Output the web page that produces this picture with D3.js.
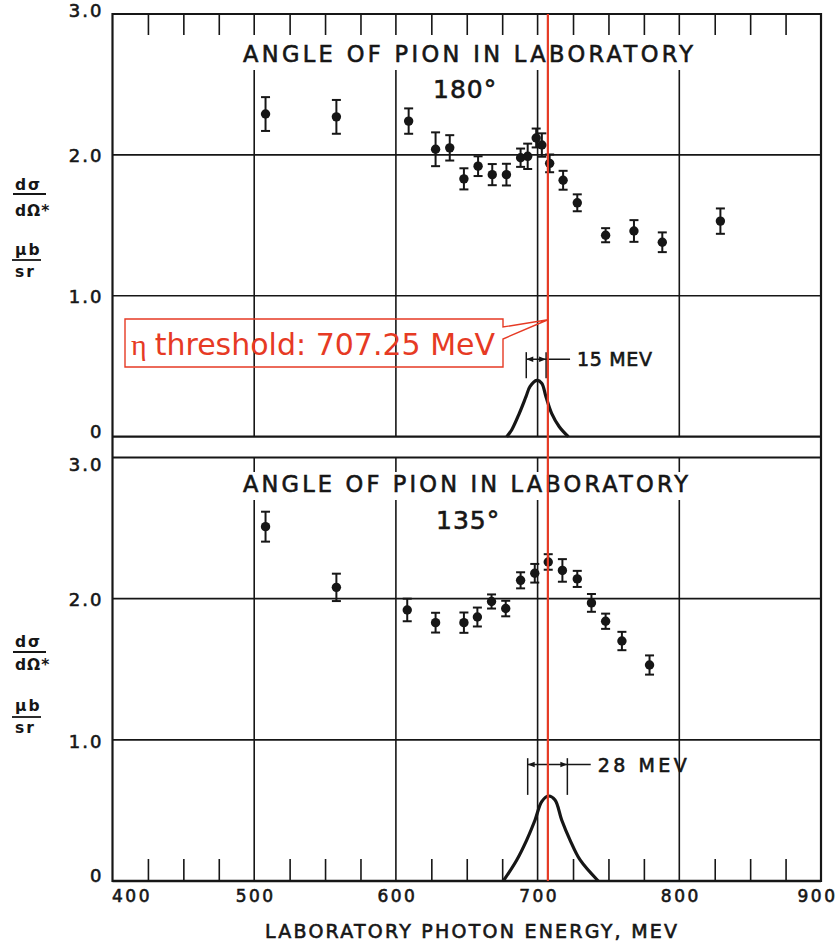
<!DOCTYPE html>
<html><head><meta charset="utf-8">
<script src="https://cdn.jsdelivr.net/npm/d3@7"></script>
<style>body{margin:0;background:#fff}svg{display:block}text{font-family:"DejaVu Sans",sans-serif}</style>
</head><body><svg id="c" width="840" height="943"></svg>
<script>
// ---------------- data ----------------
const energy180 = [508, 558, 609, 628, 638, 648, 658, 668, 678, 688, 693, 699, 703, 708.5, 718, 728, 748, 768, 788, 829];
const value180  = [2.29, 2.27, 2.24, 2.04, 2.05, 1.83, 1.92, 1.86, 1.86, 1.98, 1.99, 2.12, 2.07, 1.94, 1.82, 1.66, 1.43, 1.46, 1.38, 1.53];
const err180    = [0.12, 0.12, 0.09, 0.12, 0.09, 0.075, 0.07, 0.075, 0.077, 0.065, 0.09, 0.067, 0.083, 0.063, 0.067, 0.06, 0.05, 0.077, 0.07, 0.09];

const energy135 = [508, 558, 608, 628, 648, 657.5, 667.5, 677.5, 688, 698, 707.5, 717.5, 728, 738, 748, 759.5, 779];
const value135  = [2.51, 2.08, 1.92, 1.83, 1.83, 1.87, 1.98, 1.93, 2.13, 2.18, 2.26, 2.20, 2.14, 1.97, 1.84, 1.70, 1.53];
const err135    = [0.106, 0.097, 0.08, 0.07, 0.072, 0.067, 0.05, 0.055, 0.057, 0.066, 0.055, 0.08, 0.057, 0.063, 0.054, 0.065, 0.068];

// resolution (beam energy spread) curves
const res180E = [678.2, 681.7, 687.1, 691.8, 694.6, 699.4, 702.9, 705.9, 709.9, 715.3, 721.7];
const res180V = [0, 0.048, 0.166, 0.284, 0.355, 0.40, 0.38, 0.284, 0.166, 0.071, 0];
const res135E = [675.8, 685.3, 692.3, 698.2, 702.9, 707.6, 712.3, 717.0, 722.9, 730.0, 742.8];
const res135V = [0, 0.149, 0.29, 0.432, 0.562, 0.602, 0.574, 0.432, 0.29, 0.149, 0];
const width180 = [692, 706];   // 15 MeV FWHM marker
const width135 = [693, 721];   // 28 MeV FWHM marker
const widthLabels = ["15 MEV", "28 MEV"];

const xTicks = [400, 500, 600, 700, 800, 900];
const xMinorTicks = [425, 450, 475, 525, 550, 575, 625, 650, 675, 725, 750, 775, 825, 850, 875];
const xGrid = [500, 600, 700, 800];
const yTicks = [0, 1, 2, 3];
const yGrid = [1, 2];
const panelAngles = ["180°", "135°"];
const panelTitle = "ANGLE OF PION IN LABORATORY";
const xTitle = "LABORATORY PHOTON ENERGY, MEV";
const etaThreshold = 707.25;
const etaLabel = "threshold: 707.25 MeV";

// ---------------- layout ----------------
const svg = d3.select("#c");
const INK = "#161616", RED = "#e63a24";
const X0 = 112.5, X1 = 821;
const x = d3.scaleLinear([400, 900], [X0, X1]);
const yTop = d3.scaleLinear([0, 3], [436.7, 14]);
const yBot = d3.scaleLinear([0, 3], [881, 457.5]);

svg.append("rect").attr("width", 840).attr("height", 943).attr("fill", "#fff");

const g = svg.append("g").attr("stroke-linecap", "butt");

function hline(y, w) {
  g.append("line").attr("x1", X0).attr("x2", X1).attr("y1", y).attr("y2", y)
    .attr("stroke", INK).attr("stroke-width", w);
}
function vseg(xv, ya, yb, w) {
  g.append("line").attr("x1", xv).attr("x2", xv).attr("y1", ya).attr("y2", yb)
    .attr("stroke", INK).attr("stroke-width", w);
}

// frame
vseg(X0, yTop(3) - 1, yBot(0) + 1, 2.2);
vseg(X1, yTop(3) - 1, yBot(0) + 1, 2.2);
hline(yTop(3), 2.2); hline(yTop(0), 2.2);
hline(yBot(3), 2.2); hline(yBot(0), 2.4);

// horizontal grid
yGrid.forEach(v => { hline(yTop(v), 1.6); hline(yBot(v), 1.6); });

// vertical grid (interrupted by titles)
xGrid.forEach(e => {
  vseg(x(e), yTop(3), 35, 1.6); vseg(x(e), 70, yTop(0), 1.6);
  vseg(x(e), yBot(3), 472, 1.6); vseg(x(e), 500, yBot(0), 1.6);
});

// minor ticks via axes
const topMinor = svg.append("g").attr("transform", `translate(0,${yTop(3)})`)
  .call(d3.axisTop(x).tickValues(xMinorTicks).tickSize(-21).tickFormat(""));
const botMinor = svg.append("g").attr("transform", `translate(0,${yBot(0)})`)
  .call(d3.axisBottom(x).tickValues(xMinorTicks).tickSize(-22).tickFormat(""));
[topMinor, botMinor].forEach(a => {
  a.select(".domain").remove();
  a.selectAll("line").attr("stroke", INK).attr("stroke-width", 1.6);
});

const inkText = sel => sel.attr("fill", INK).attr("stroke", INK).attr("stroke-width", 0.6);

// y axes labels
function yAxis(scale, nudges) {
  const a = svg.append("g").attr("transform", `translate(${X0},0)`)
    .call(d3.axisLeft(scale).tickValues(yTicks).tickSize(0).tickPadding(9)
      .tickFormat(d => d === 0 ? "0" : d3.format(".1f")(d)));
  a.select(".domain").remove();
  a.selectAll("text").attr("font-size", 18).attr("letter-spacing", 2).attr("font-family", "DejaVu Sans")
    .attr("transform", d => `translate(0,${nudges[d]})`).call(inkText);
}
yAxis(yTop, {0: -5, 1: 1, 2: 1, 3: -3});
yAxis(yBot, {0: -5, 1: 2, 2: 1, 3: 7});

// x axis labels
const xa = svg.append("g").attr("transform", `translate(0,${yBot(0)})`)
  .call(d3.axisBottom(x).tickValues(xTicks).tickSize(0).tickPadding(9).tickFormat(d3.format("d")));
xa.select(".domain").remove();
xa.selectAll("text").attr("font-size", 17).attr("letter-spacing", 2.5)
  .attr("font-family", "DejaVu Sans")
  .attr("transform", d => `translate(${d === 400 ? 19 : d === 900 ? -4 : 1},0)`).call(inkText);

svg.append("text").attr("x", 265).attr("y", 938).attr("font-size", 19)
  .attr("textLength", 412).attr("lengthAdjust", "spacing").text(xTitle).call(inkText);

// panel titles
[[62, 98, 243, 450, 433], [492, 529, 243, 445, 436]].forEach((p, i) => {
  svg.append("text").attr("x", p[2]).attr("y", p[0]).attr("font-size", 22.5)
    .attr("textLength", p[3]).attr("lengthAdjust", "spacing").text(panelTitle).call(inkText);
  svg.append("text").attr("x", p[4]).attr("y", p[1]).attr("font-size", 25)
    .attr("letter-spacing", 1).text(panelAngles[i]).call(inkText);
});

// y-axis quantity labels
function yLabel(b) {
  const t = svg.append("g").attr("fill", INK).attr("font-weight", "bold").attr("font-size", 15.5);
  t.append("text").attr("x", 15).attr("y", b[0]).attr("letter-spacing", 2).text("dσ");
  t.append("line").attr("x1", 13).attr("x2", 46).attr("y1", b[1]).attr("y2", b[1]).attr("stroke", INK).attr("stroke-width", 1.8);
  t.append("text").attr("x", 15).attr("y", b[2]).attr("letter-spacing", 1).text("dΩ*");
  t.append("text").attr("x", 15).attr("y", b[3]).attr("letter-spacing", 2).text("μb");
  t.append("line").attr("x1", 12).attr("x2", 41).attr("y1", b[4]).attr("y2", b[4]).attr("stroke", INK).attr("stroke-width", 1.8);
  t.append("text").attr("x", 15).attr("y", b[5]).attr("letter-spacing", 2).text("sr");
}
yLabel([190, 194, 216, 255, 260, 277]);
yLabel([647, 652, 670, 711, 717, 733]);

// data points with error bars
function points(E, V, Er, ys) {
  const pg = svg.append("g");
  E.forEach((e, i) => {
    const cx = x(e);
    pg.append("line").attr("x1", cx).attr("x2", cx).attr("y1", ys(V[i] + Er[i])).attr("y2", ys(V[i] - Er[i]))
      .attr("stroke", INK).attr("stroke-width", 2);
    [V[i] + Er[i], V[i] - Er[i]].forEach(v => pg.append("line")
      .attr("x1", cx - 4.5).attr("x2", cx + 4.5).attr("y1", ys(v)).attr("y2", ys(v))
      .attr("stroke", INK).attr("stroke-width", 2));
    pg.append("circle").attr("cx", cx).attr("cy", ys(V[i])).attr("r", 4.7).attr("fill", INK);
  });
}
points(energy180, value180, err180, yTop);
points(energy135, value135, err135, yBot);

// resolution curves
function resCurve(E, V, ys) {
  const line = d3.line().x(d => x(d[0])).y(d => ys(d[1])).curve(d3.curveCatmullRom.alpha(0.5));
  svg.append("path").attr("d", line(E.map((e, i) => [e, V[i]])))
    .attr("fill", "none").attr("stroke", INK).attr("stroke-width", 3.2);
}
resCurve(res180E, res180V, yTop);
resCurve(res135E, res135V, yBot);

// width markers
function widthMarker(W, ys, vBar0, vBar1, vArrow, lineEnd, label, textLen) {
  const mg = svg.append("g").attr("stroke", INK).attr("stroke-width", 1.5).attr("fill", INK);
  const xa = x(W[0]), xb = x(W[1]), ya = ys(vArrow);
  [xa, xb].forEach(xx => mg.append("line").attr("x1", xx).attr("x2", xx).attr("y1", ys(vBar0)).attr("y2", ys(vBar1)));
  mg.append("line").attr("x1", xa).attr("x2", x(lineEnd)).attr("y1", ya).attr("y2", ya);
  mg.append("path").attr("stroke", "none")
    .attr("d", `M${xa},${ya}l7,-2.8v5.6z M${xb},${ya}l-7,-2.8v5.6z`);
  svg.append("text").attr("x", x(lineEnd) + 7).attr("y", ya + 7).attr("font-size", 19)
    .attr("textLength", textLen).attr("lengthAdjust", "spacing").text(label).call(inkText);
}
widthMarker(width180, yTop, 0.415, 0.60, 0.55, 722.9, widthLabels[0], 75);
widthMarker(width135, yBot, 0.61, 0.87, 0.825, 737.5, widthLabels[1], 89);

// eta threshold annotation
const xe = x(etaThreshold);
svg.append("line").attr("x1", xe).attr("x2", xe).attr("y1", yTop(3)).attr("y2", yBot(0))
  .attr("stroke", RED).attr("stroke-width", 2.2);
const tipY = yTop(0.83);
svg.append("path")
  .attr("d", `M125,319 H503 V327 L${xe},${tipY} L503,339 V367 H125 Z`)
  .attr("fill", "none").attr("stroke", RED).attr("stroke-width", 1.4);
const et = svg.append("text").attr("x", 131).attr("y", 355).attr("font-size", 30).attr("fill", RED)
  .attr("font-family", "Liberation Sans, Arial, sans-serif");
et.append("tspan").attr("font-family", "Liberation Serif, serif").text("η");
et.append("tspan").attr("dx", 8).text(etaLabel);
</script></body></html>
